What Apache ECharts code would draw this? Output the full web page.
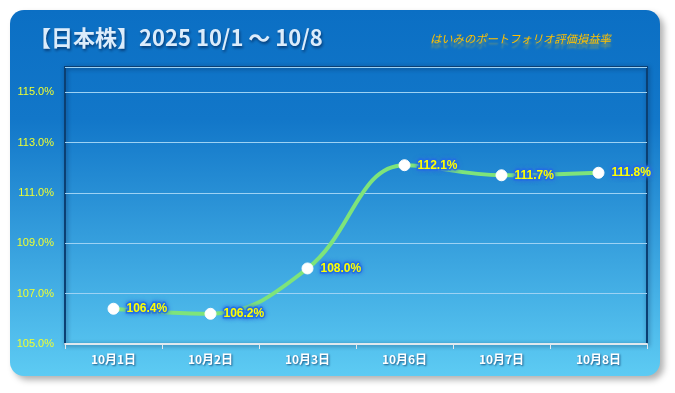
<!DOCTYPE html>
<html>
<head>
<meta charset="utf-8">
<script src="https://cdn.jsdelivr.net/npm/echarts@6/dist/echarts.min.js"></script>
<style>
html,body{margin:0;padding:0;background:#fff;}
#c{width:675px;height:393px;}
</style>
</head>
<body>
<div id="c"></div>
<script>
var categories = ['10月1日','10月2日','10月3日','10月6日','10月7日','10月8日'];
var values = [106.4, 106.2, 108.0, 112.1, 111.7, 111.8];
var yMin = 105, yMax = 116, yInterval = 2;
var titleText = '【日本株】2025 10/1 〜 10/8';
var subTitleText = 'はいみのポートフォリオ評価損益率';

var chart = echarts.init(document.getElementById('c'), null, {renderer:'canvas'});
chart.setOption({
  backgroundColor: '#ffffff',
  animation: false,
  graphic: [
    {
      type: 'rect', z: -10, left: 10, top: 10,
      shape: {width: 650, height: 366, r: 14},
      style: {
        fill: new echarts.graphic.LinearGradient(0,0,0,1,[
          {offset:0, color:'#0b6fc4'},
          {offset:0.3, color:'#1277c9'},
          {offset:1, color:'#5dcbf3'}
        ]),
        shadowBlur: 6, shadowOffsetX: 4, shadowOffsetY: 4, shadowColor: 'rgba(0,0,0,0.3)'
      }
    },
    {
      type: 'text', left: 29, top: 27, z: 10,
      style: {
        text: titleText,
        font: 'bold 22px "Noto Sans CJK JP", sans-serif',
        fill: '#dcecfb',
        textShadowColor: 'rgba(0,20,60,0.6)', textShadowBlur: 3, textShadowOffsetX: 1, textShadowOffsetY: 2
      }
    },
    {
      type: 'text', left: 430, top: 33, z: 10,
      style: {
        text: subTitleText,
        font: 'italic 11.3px "Noto Sans CJK JP", sans-serif',
        fill: '#ffc000',
        textShadowColor: 'rgba(255,200,0,0.4)', textShadowBlur: 2, textShadowOffsetY: 5
      }
    }
  ],
  grid: {
    left: 65, top: 67, right: 28, bottom: 49,
    show: true, borderColor: '#0b3f72', borderWidth: 2,
    shadowColor: 'rgba(0,20,60,0.5)', shadowBlur: 4, shadowOffsetX: 1, shadowOffsetY: 1
  },
  xAxis: {
    type: 'category', data: categories, boundaryGap: true,
    axisLine: {show: true, lineStyle: {color: '#e0e8ee', width: 2}},
    axisTick: {show: true, length: 5, lineStyle: {color: '#e0e8ee'}},
    axisLabel: {
      color: '#ffffff', fontWeight: 'bold', fontSize: 12, margin: 9,
      fontFamily: '"Noto Sans CJK JP", sans-serif',
      textShadowColor: 'rgba(0,40,90,0.7)', textShadowBlur: 2, textShadowOffsetX: 1, textShadowOffsetY: 1
    }
  },
  yAxis: {
    type: 'value', min: yMin, max: yMax, interval: yInterval,
    axisLine: {show: false}, axisTick: {show: false},
    splitLine: {show: true, lineStyle: {color: '#9dd2f4', width: 1}},
    axisLabel: {
      color: '#f0ff30', fontSize: 11, margin: 11,
      fontFamily: '"Liberation Sans", sans-serif',
      showMaxLabel: false,
      formatter: function(v){ return v === yMax ? '' : v.toFixed(1) + '%'; }
    }
  },
  series: [{
    type: 'line', data: values, smooth: 0.4,
    symbol: 'circle', symbolSize: 11,
    itemStyle: {color: '#ffffff', borderColor: '#ffffff'},
    lineStyle: {color: '#7ee47a', width: 4},
    label: {
      show: true, position: 'right', distance: 7,
      formatter: function(p){ return p.value.toFixed(1) + '%'; },
      color: '#ffff00', fontWeight: 'bold', fontSize: 12,
      fontFamily: '"Liberation Sans", sans-serif',
      textBorderColor: 'rgba(30,110,230,0.9)', textBorderWidth: 3,
      textShadowColor: '#2a6fe0', textShadowBlur: 4
    }
  }]
});
</script>
</body>
</html>
